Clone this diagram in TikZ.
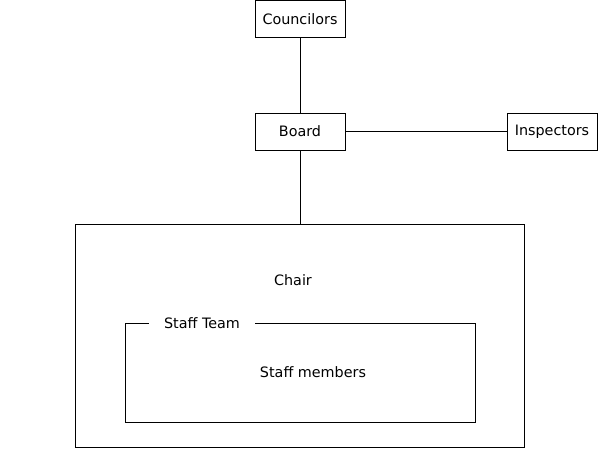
\documentclass[tikz,border=0pt]{standalone}
\usepackage{fontspec}
\setmainfont{DejaVu Sans}
\tikzset{
  box/.style={draw, line width=0.6pt, minimum width=2.25cm, minimum height=0.925cm, font=\fontsize{10.2}{12}\selectfont},
  txt/.style={font=\fontsize{10.2}{12}\selectfont}
}
\begin{document}
\begin{tikzpicture}[x=0.025cm,y=-0.025cm,line width=0.6pt]
     \useasboundingbox (0,0) rectangle (600,450);
     \node[box] (councilors) at (300,19) {Councilors};
     \node[box] (board) at (300,131.5) {Board};
     \node[box] (inspectors) at (552,131.5) {Inspectors};
     \node[draw, minimum width=11.225cm, minimum height=5.575cm] (chairbox) at (299.5,335.5) {};
     \node[txt] (chair) at (293,280) {Chair};
     \node[draw, minimum width=8.75cm, minimum height=2.475cm] (staffbox) at (300,372.5) {};
     \node[txt, fill=white, inner xsep=0.38cm, inner ysep=1pt] (staffteam) at (202,323.5) {Staff Team};
     \node[txt] (members) at (313,372) {Staff members};
     \draw (councilors) -- (board);
     \draw (board) -- (inspectors);
     \draw (board) -- (board |- chairbox.north);
\end{tikzpicture}
\end{document}
